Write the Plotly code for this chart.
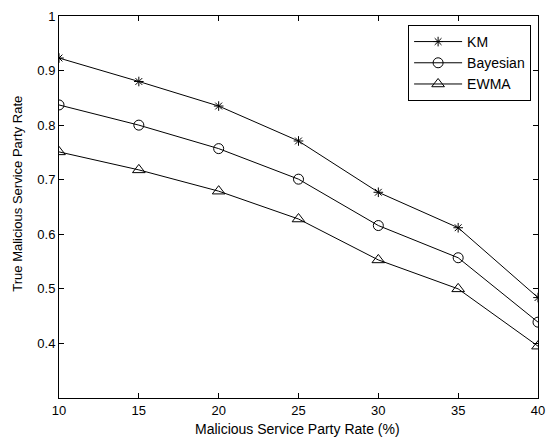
import plotly.graph_objects as go

x = [10, 15, 20, 25, 30, 35, 40]
km = [0.923, 0.880, 0.835, 0.771, 0.677, 0.612, 0.484]
bayesian = [0.837, 0.800, 0.757, 0.701, 0.616, 0.557, 0.439]
ewma = [0.751, 0.718, 0.679, 0.628, 0.553, 0.500, 0.395]

x_ticks = [10, 15, 20, 25, 30, 35, 40]
y_ticks = [0.4, 0.5, 0.6, 0.7, 0.8, 0.9, 1.0]
y_ticktext = ["0.4", "0.5", "0.6", "0.7", "0.8", "0.9", "1"]

series = [
    ("KM", km, "asterisk-open", 8),
    ("Bayesian", bayesian, "circle-open", 10),
    ("EWMA", ewma, "triangle-up-open", 11),
]

FONT = "Liberation Sans, Arial, Helvetica"

fig = go.Figure()
for name, vals, sym, sz in series:
    fig.add_trace(go.Scatter(
        x=x, y=vals, name=name, mode="lines+markers",
        line=dict(color="black", width=1),
        marker=dict(symbol=sym, size=sz, color="black", line=dict(width=1, color="black")),
    ))

axis_common = dict(
    showgrid=False, zeroline=False, showline=True, linecolor="black", linewidth=1,
    mirror="ticks", ticks="inside", ticklen=5, tickcolor="black",
    tickfont=dict(family=FONT, size=13, color="black"),
    ticklabeloverflow="allow",
)

fig.update_layout(
    width=553, height=437,
    margin=dict(l=59, r=8, t=16, b=39),
    paper_bgcolor="white", plot_bgcolor="white",
    font=dict(family=FONT, size=13, color="black"),
    xaxis=dict(range=[10, 40], tickvals=x_ticks, **axis_common),
    yaxis=dict(range=[0.3, 1.0], tickvals=y_ticks, ticktext=y_ticktext, **axis_common),
    legend=dict(x=0.9856, y=0.9765, xanchor="right", yanchor="top",
                bordercolor="black", borderwidth=1, bgcolor="white",
                font=dict(size=14), tracegroupgap=0, itemwidth=48),
    showlegend=True,
    annotations=[
        dict(text="Malicious Service Party Rate (%)", xref="paper", yref="paper",
             x=0.497, y=-0.081, showarrow=False, font=dict(size=14),
             xanchor="center", yanchor="middle"),
        dict(text="True Malicious Service Party Rate", xref="paper", yref="paper",
             x=-0.0854, y=0.535, showarrow=False, font=dict(size=13), textangle=-90,
             xanchor="center", yanchor="middle"),
    ],
)

fig.write_html("out.html", config={"displayModeBar": False},
               post_script="document.body.style.margin='0';")
